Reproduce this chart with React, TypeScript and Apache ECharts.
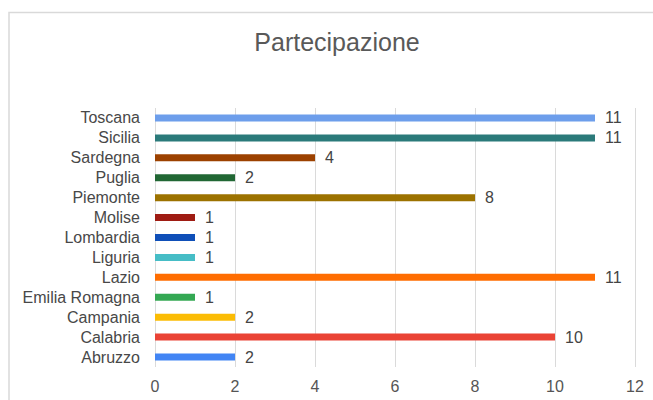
import React, { useEffect, useRef } from "react";
import * as echarts from "echarts";

const categories = [
  "Abruzzo",
  "Calabria",
  "Campania",
  "Emilia Romagna",
  "Lazio",
  "Liguria",
  "Lombardia",
  "Molise",
  "Piemonte",
  "Puglia",
  "Sardegna",
  "Sicilia",
  "Toscana",
];
const values = [2, 10, 2, 1, 11, 1, 1, 1, 8, 2, 4, 11, 11];
const barColors = [
  "#4285f4",
  "#ea4335",
  "#fbbc04",
  "#34a853",
  "#ff6d01",
  "#46bdc6",
  "#0f4fb8",
  "#9f1c13",
  "#9c7200",
  "#216734",
  "#9c4100",
  "#2b7a7a",
  "#6d9eeb",
];
const xTicks = { min: 0, max: 12, interval: 2 };
const titleText = "Partecipazione";

export default function App() {
  const ref = useRef<HTMLDivElement>(null);
  useEffect(() => {
    if (!ref.current) return;
    const chart = echarts.init(ref.current, undefined, { renderer: "svg" });
    const font = "Arial, 'Liberation Sans', Helvetica, sans-serif";
    chart.setOption({
      animation: false,
      backgroundColor: "#ffffff",
      graphic: [
        {
          type: "rect",
          shape: { x: 9, y: 12.5, width: 720, height: 500 },
          style: { fill: "none", stroke: "#d9d9d9", lineWidth: 1.5 },
          silent: true,
        },
        {
          type: "text",
          x: 337,
          y: 42,
          style: {
            text: titleText,
            fill: "#595959",
            font: `25px ${font}`,
            textAlign: "center",
            textVerticalAlign: "middle",
          },
        },
      ],
      grid: { left: 155, right: 18, top: 108, bottom: 33, containLabel: false },
      xAxis: {
        type: "value",
        min: xTicks.min,
        max: xTicks.max,
        interval: xTicks.interval,
        axisLine: { show: false },
        axisTick: { show: false },
        splitLine: { show: true, lineStyle: { color: "#dadada", width: 1 } },
        axisLabel: { color: "#555555", fontSize: 16, fontFamily: font, margin: 11 },
      },
      yAxis: {
        type: "category",
        data: categories,
        axisLine: { show: false },
        axisTick: { show: false },
        axisLabel: {
          interval: 0,
          color: "#484848",
          fontSize: 16,
          fontFamily: font,
          margin: 15,
        },
      },
      series: [
        {
          type: "bar",
          barWidth: 7,
          data: values.map((v, i) => ({ value: v, itemStyle: { color: barColors[i] } })),
          label: {
            show: true,
            position: "right",
            distance: 10,
            color: "#444444",
            fontSize: 16,
            fontFamily: font,
          },
        },
      ],
    });
    return () => chart.dispose();
  }, []);
  return (
    <div
      ref={ref}
      style={{ position: "fixed", left: 0, top: 0, width: 653, height: 400 }}
    />
  );
}
